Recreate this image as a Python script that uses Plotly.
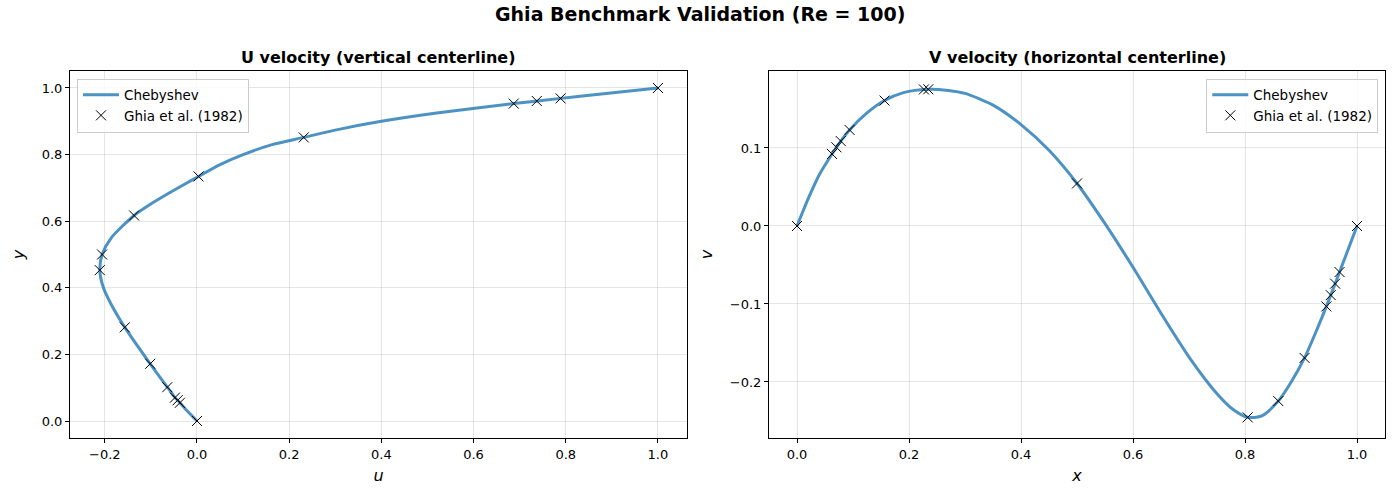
import plotly.graph_objects as go

# ---- Data ----
# Chebyshev solution, U along vertical centerline (y, u)
cheb_y = [0, 0.03, 0.0547, 0.0703, 0.1016, 0.1719, 0.2813, 0.35, 0.40, 0.4531, 0.50, 0.55,
          0.6172, 0.65, 0.68, 0.71, 0.7344, 0.77, 0.80, 0.83, 0.8516, 0.875, 0.90, 0.925,
          0.9531, 0.9688, 0.9766, 1.0]
cheb_u = [0, -0.021, -0.0372, -0.0478, -0.0643, -0.1015, -0.1566, -0.186, -0.203, -0.2109,
          -0.2058, -0.186, -0.1364, -0.102, -0.066, -0.028, 0.0033, 0.050, 0.100, 0.163, 0.2315,
          0.305, 0.400, 0.520, 0.6872, 0.7887, 0.8412, 1.0]

# Chebyshev solution, V along horizontal centerline (x, v)
cheb_x = [0, 0.02, 0.04, 0.0625, 0.0781, 0.0938, 0.125, 0.1563, 0.19, 0.2344, 0.27, 0.30, 0.35,
          0.40, 0.45, 0.50, 0.55, 0.60, 0.65, 0.70, 0.75, 0.78, 0.8047, 0.83, 0.8594, 0.88,
          0.9063, 0.93, 0.9453, 0.9688, 1.0]
cheb_v = [0, 0.035, 0.066, 0.0923, 0.1089, 0.1232, 0.145, 0.1608, 0.171, 0.1753, 0.1738, 0.170,
          0.155, 0.130, 0.097, 0.0545, 0.003, -0.053, -0.112, -0.168, -0.215, -0.236, -0.2453,
          -0.2435, -0.2245, -0.203, -0.1691, -0.130, -0.1031, -0.0591, 0]

# Ghia et al. (1982), Re = 100
ghia_y = [1.0000, 0.9688, 0.9609, 0.9531, 0.8516, 0.7344, 0.6172, 0.5000, 0.4531,
          0.2813, 0.1719, 0.1016, 0.0703, 0.0625, 0.0547, 0.0000]
ghia_u = [1.00000, 0.78871, 0.73722, 0.68717, 0.23151, 0.00332, -0.13641, -0.20581, -0.21090,
          -0.15662, -0.10150, -0.06434, -0.04775, -0.04192, -0.03717, 0.00000]

ghia_x = [1.0000, 0.9688, 0.9609, 0.9531, 0.9453, 0.9063, 0.8594, 0.8047, 0.5000, 0.2344,
          0.2266, 0.1563, 0.0938, 0.0781, 0.0703, 0.0625, 0.0000]
ghia_v = [0.00000, -0.05906, -0.07391, -0.08864, -0.10313, -0.16914, -0.22445, -0.24533,
          0.05454, 0.17527, 0.17507, 0.16077, 0.12317, 0.10890, 0.10091, 0.09233, 0.00000]

line_color = "rgba(31,119,180,0.8)"
font_family = "DejaVu Sans"

fig = go.Figure()

fig.add_trace(go.Scatter(x=cheb_u, y=cheb_y, mode="lines", name="Chebyshev",
                         line=dict(color=line_color, width=3, shape="spline", smoothing=0.7),
                         xaxis="x", yaxis="y", legend="legend"))
fig.add_trace(go.Scatter(x=ghia_u, y=ghia_y, mode="markers", name="Ghia et al. (1982)",
                         marker=dict(symbol="x-thin", size=10, line=dict(color="black", width=1),
                                     color="black"),
                         xaxis="x", yaxis="y", legend="legend"))

fig.add_trace(go.Scatter(x=cheb_x, y=cheb_v, mode="lines", name="Chebyshev",
                         line=dict(color=line_color, width=3, shape="spline", smoothing=0.7),
                         xaxis="x2", yaxis="y2", legend="legend2"))
fig.add_trace(go.Scatter(x=ghia_x, y=ghia_v, mode="markers", name="Ghia et al. (1982)",
                         marker=dict(symbol="x-thin", size=10, line=dict(color="black", width=1),
                                     color="black"),
                         xaxis="x2", yaxis="y2", legend="legend2"))

axis_common = dict(showline=True, linecolor="black", linewidth=1, mirror=True,
                   ticks="outside", ticklen=4, tickcolor="black",
                   showgrid=True, gridcolor="rgba(0,0,0,0.1)", gridwidth=1,
                   zeroline=False, tickfont=dict(size=13, color="black", family=font_family))

ydom = [0.124, 0.858]

fig.update_layout(
    width=1400, height=500,
    margin=dict(l=0, r=0, t=0, b=0),
    paper_bgcolor="white", plot_bgcolor="white",
    font=dict(family=font_family, color="black"),
    xaxis=dict(domain=[0.05, 0.4907], range=[-0.2755, 1.063], tickvals=[-0.2, 0, 0.2, 0.4, 0.6, 0.8, 1.0],
               ticktext=["−0.2", "0.0", "0.2", "0.4", "0.6", "0.8", "1.0"],
               title=dict(text="<i>u</i>", font=dict(size=16), standoff=9), anchor="y", **axis_common),
    yaxis=dict(domain=ydom, range=[-0.051, 1.051], tickvals=[0, 0.2, 0.4, 0.6, 0.8, 1.0],
               ticktext=["0.0", "0.2", "0.4", "0.6", "0.8", "1.0"],
               title=dict(text="<i>y</i>", font=dict(size=16), standoff=13), anchor="x", **axis_common),
    xaxis2=dict(domain=[0.5493, 0.9893], range=[-0.05, 1.05], tickvals=[0, 0.2, 0.4, 0.6, 0.8, 1.0],
                ticktext=["0.0", "0.2", "0.4", "0.6", "0.8", "1.0"],
                title=dict(text="<i>x</i>", font=dict(size=16), standoff=9), anchor="y2", **axis_common),
    yaxis2=dict(domain=ydom, range=[-0.2718, 0.1987], tickvals=[-0.2, -0.1, 0, 0.1],
                ticktext=["−0.2", "−0.1", "0.0", "0.1"],
                title=dict(text="<i>v</i>", font=dict(size=16), standoff=13), anchor="x2", **axis_common),
    legend=dict(x=0.055, y=0.843, xanchor="left", yanchor="top",
                bgcolor="rgba(255,255,255,0.8)", bordercolor="#cccccc", borderwidth=1,
                font=dict(size=13.5), tracegroupgap=0, itemwidth=36),
    legend2=dict(x=0.9845, y=0.843, xanchor="right", yanchor="top",
                 bgcolor="rgba(255,255,255,0.8)", bordercolor="#cccccc", borderwidth=1,
                 font=dict(size=13.5), tracegroupgap=0, itemwidth=36),
    annotations=[
        dict(text="<b>Ghia Benchmark Validation (Re = 100)</b>", x=0.5, y=0.999, xref="paper", yref="paper",
             xanchor="center", yanchor="top", showarrow=False, font=dict(size=19)),
        dict(text="<b>U velocity (vertical centerline)</b>", x=(0.05 + 0.4907) / 2, y=0.885,
             xref="paper", yref="paper", xanchor="center", yanchor="middle", showarrow=False,
             font=dict(size=16)),
        dict(text="<b>V velocity (horizontal centerline)</b>", x=(0.5493 + 0.9893) / 2, y=0.885,
             xref="paper", yref="paper", xanchor="center", yanchor="middle", showarrow=False,
             font=dict(size=16)),
    ],
)

fig.write_html("out.html")
